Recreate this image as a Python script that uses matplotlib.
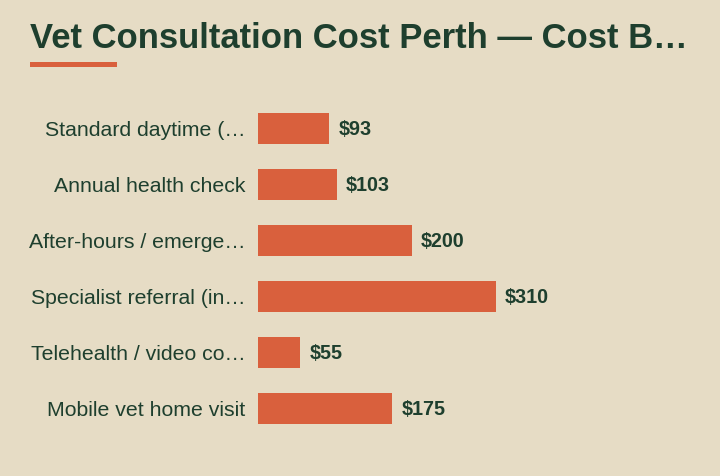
import matplotlib
matplotlib.use("Agg")
import matplotlib.pyplot as plt
from matplotlib.patches import Rectangle

title = "Vet Consultation Cost Perth — Cost B…"
categories = [
    "Standard daytime (…",
    "Annual health check",
    "After-hours / emerge…",
    "Specialist referral (in…",
    "Telehealth / video co…",
    "Mobile vet home visit",
]
values = [93, 103, 200, 310, 55, 175]
value_labels = ["$93", "$103", "$200", "$310", "$55", "$175"]

BG = "#E6DCC5"
BAR = "#D9603D"
TXT = "#1E3F2E"

plt.rcParams["font.family"] = ["Liberation Sans", "DejaVu Sans"]

fig = plt.figure(figsize=(7.2, 4.76), dpi=100, facecolor=BG)
W, H = 720, 476
ax = fig.add_axes([258 / W, 1 - 436.5 / H, 460.8 / W, 336 / H])
ax.set_facecolor(BG)

y = list(range(len(categories)))
ax.barh(y, values, height=0.555, color=BAR, edgecolor="none")
ax.set_xlim(0, 600)
ax.set_ylim(len(categories) - 0.5, -0.5)

ax.set_yticks(y)
ax.set_yticklabels(categories, fontsize=15.3, color=TXT)
ax.tick_params(axis="y", length=0, pad=9.0)
ax.set_xticks([])
for s in ax.spines.values():
    s.set_visible(False)

for yi, v, lab in zip(y, values, value_labels):
    ax.annotate(lab, (v, yi), xytext=(6.5, -0.7), textcoords="offset points",
                ha="left", va="center", fontsize=14.2, fontweight="bold", color=TXT)

fig.text(30 / W, 1 - 47.5 / H, title, fontsize=24.9, fontweight="bold", color=TXT,
         ha="left", va="baseline")
fig.patches.append(Rectangle((30 / W, 1 - 67 / H), 87 / W, 5 / H,
                             transform=fig.transFigure, facecolor=BAR, edgecolor="none"))

fig.savefig("out.png", dpi=100, facecolor=BG)
